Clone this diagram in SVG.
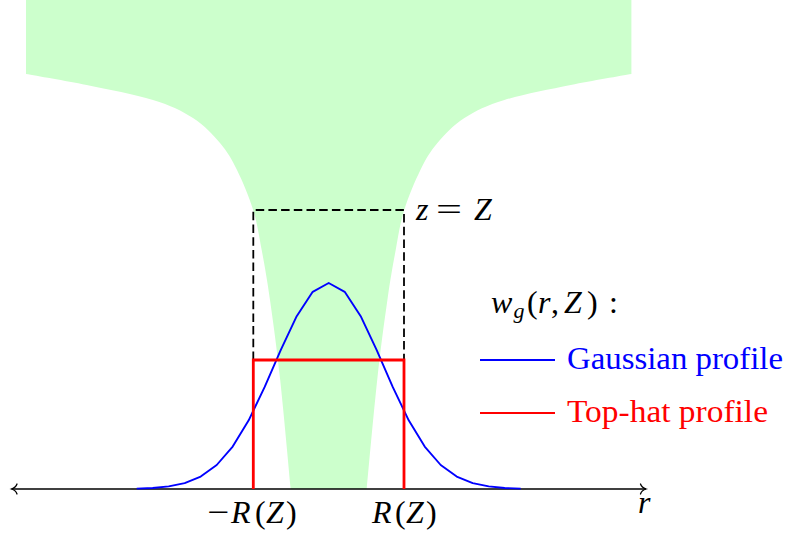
<svg xmlns="http://www.w3.org/2000/svg" width="791" height="537" viewBox="0 0 791 537">
<style>
  .t { font-family: "Liberation Serif", "Times New Roman", serif; font-size: 32px; fill: #000; }
  .it { font-style: italic; }
  .sub { font-size: 22px; font-style: italic; }
  .blue { stroke: #0000ff; stroke-width: 1.9; fill: none; stroke-linejoin: round; }
  .red { stroke: #ff0000; stroke-width: 2.8; fill: none; stroke-linejoin: miter; }
  .dash { stroke: #000; stroke-width: 1.8; fill: none; stroke-dasharray: 8.5 4.2; }
  .axis { stroke: #000; stroke-width: 1.3; fill: none; }
</style>
<defs>
  <marker id="to" markerUnits="userSpaceOnUse" orient="auto-start-reverse" refX="0" refY="0" markerWidth="12" markerHeight="12" viewBox="-7 -6 8 12" overflow="visible">
    <path d="M-5.5,-5 C-4.5,-2 -1.5,-0.5 0,0 C-1.5,0.5 -4.5,2 -5.5,5" fill="none" stroke="#000" stroke-width="1.3" stroke-linecap="round"/>
  </marker>
</defs>
<rect width="791" height="537" fill="#fff"/>

<g id="plume">
  <path fill="#ccffcc" d="M26,0 L631.4,0 L631.4,74
    C621.3,75.8 591.9,80.7 570.7,85
    C549.5,89.3 522.1,94.5 504.4,100
    C486.7,105.5 475.6,110.8 464.4,118
    C453.2,125.2 444.7,134.3 437.4,143
    C430.1,151.7 425.9,158.8 420.4,170
    C414.9,181.2 408.3,196.7 404.2,210
    C400.1,223.3 398.5,235 395.7,250
    C392.9,265 390.5,278.3 387.4,300
    C384.3,321.7 380.6,348.5 377.2,380
    C373.8,411.5 368.4,470.8 366.7,489
    L290.7,489
    C289,470.8 283.6,411.5 280.2,380
    C276.8,348.5 273.1,321.7 270,300
    C266.9,278.3 264.5,265 261.7,250
    C258.9,235 257.3,223.3 253.2,210
    C249.1,196.7 242.5,181.2 237,170
    C231.5,158.8 227.3,151.7 220,143
    C212.7,134.3 204.2,125.2 193,118
    C181.8,110.8 170.7,105.5 153,100
    C135.3,94.5 107.9,89.3 86.7,85
    C65.5,80.7 36.1,75.8 26,74 Z"/>
</g>

<g id="connectors">
  <line id="r-axis" class="axis" x1="11.5" y1="489" x2="646" y2="489" marker-start="url(#to)" marker-end="url(#to)"/>
  <path id="dashed-box" class="dash" d="M253.3,360 L253.3,210 L404,210 L404,360"/>
</g>

<g id="gaussian">
  <polyline class="blue" points="136.7,488.6 152.7,488.0 168.7,486.4 184.7,483.1 200.7,476.6 216.7,465.0 232.7,446.6 248.7,420.3 264.7,386.9 280.7,350.2 296.7,316.2 312.7,291.8 328.7,283 344.7,291.8 360.7,316.2 376.7,350.2 392.7,386.9 408.7,420.3 424.7,446.6 440.7,465.0 456.7,476.6 472.7,483.1 488.7,486.4 504.7,488.0 520.7,488.6"/>
</g>

<g id="tophat">
  <polyline class="red" points="253.3,489 253.3,360 404,360 404,489"/>
</g>

<g id="label-zZ">
  <text class="t it" x="416" y="220">z</text>
  <text class="t" x="436" y="220" textLength="26" lengthAdjust="spacingAndGlyphs">=</text>
  <text class="t it" x="474" y="220">Z</text>
</g>

<g id="label-minusR">
  <text class="t" x="207" y="523" textLength="22" lengthAdjust="spacingAndGlyphs">−</text>
  <text class="t" y="523"><tspan class="it" x="231">R</tspan><tspan x="255">(</tspan><tspan class="it" x="266">Z</tspan><tspan x="286">)</tspan></text>
</g>

<g id="label-R">
  <text class="t" y="523"><tspan class="it" x="372">R</tspan><tspan x="395">(</tspan><tspan class="it" x="406">Z</tspan><tspan x="426">)</tspan></text>
</g>

<g id="label-r">
  <text class="t it" x="638" y="513">r</text>
</g>

<g id="legend">
  <text class="t" y="313"><tspan class="it" x="491">w</tspan><tspan class="sub" x="513.5" dy="5">g</tspan><tspan x="527" dy="-5">(</tspan><tspan class="it" x="538">r</tspan><tspan x="551">,</tspan><tspan class="it" x="564">Z</tspan><tspan x="587">)</tspan><tspan x="609">:</tspan></text>
  <g id="legend-gaussian">
    <line x1="480" y1="360" x2="555" y2="360" class="blue"/>
    <text class="t" x="567" y="369" style="fill:#0000ff" textLength="216" lengthAdjust="spacingAndGlyphs">Gaussian profile</text>
  </g>
  <g id="legend-tophat">
    <line x1="480" y1="413" x2="555" y2="413" stroke="#ff0000" stroke-width="1.9"/>
    <text class="t" x="567" y="422" style="fill:#ff0000" textLength="201" lengthAdjust="spacingAndGlyphs">Top-hat profile</text>
  </g>
</g>
</svg>
